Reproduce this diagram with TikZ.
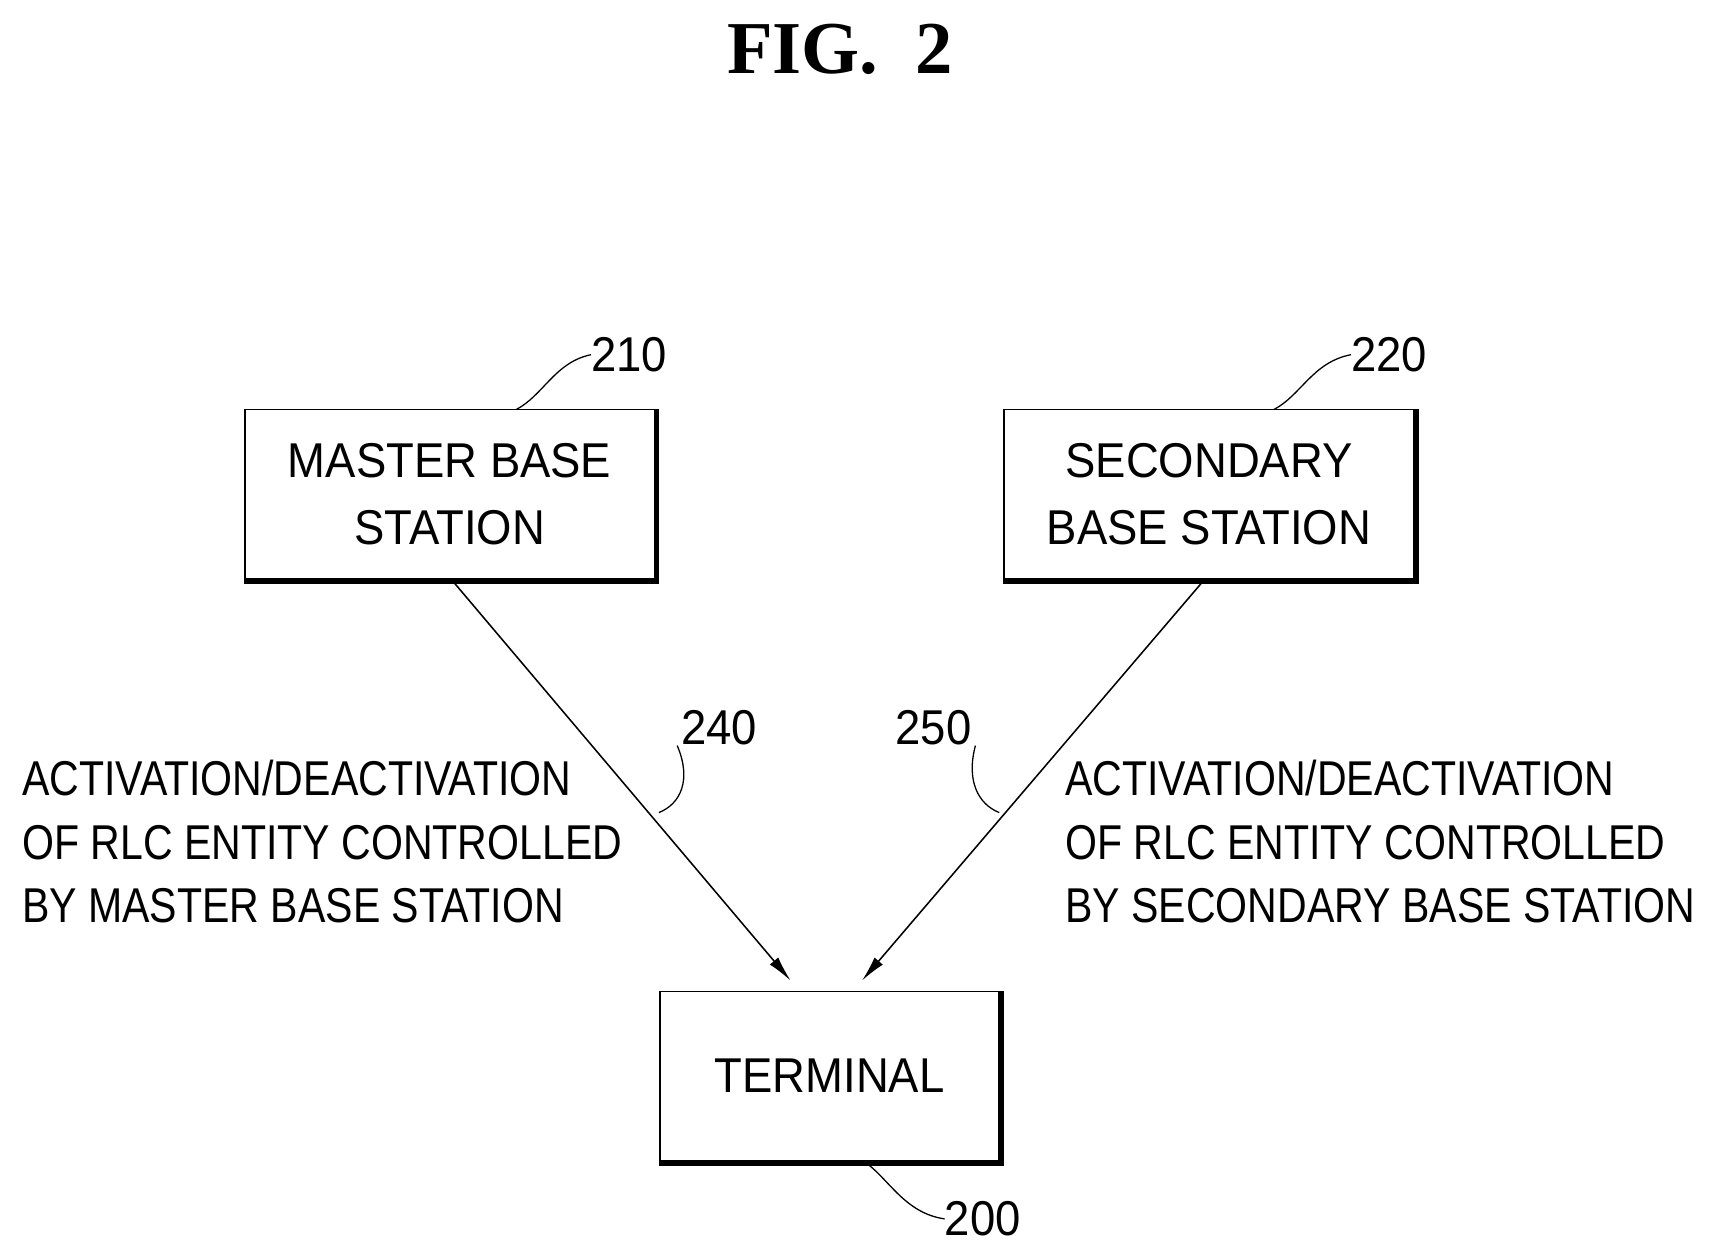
\documentclass[tikz,border=0pt]{standalone}
\usetikzlibrary{arrows.meta}
\usepackage{fontspec}
\setmainfont{Liberation Sans}
\newfontfamily\figfont{Liberation Serif}
\newfontfamily\condA[FakeStretch=0.84]{Liberation Sans}
\newfontfamily\condB[FakeStretch=0.93]{Liberation Sans}
\begin{document}
\begin{tikzpicture}[x=0.3mm,y=-0.3mm,
  box/.style={draw,line width=1.2pt,minimum width=111.9mm,minimum height=46.2mm,inner sep=0pt,align=center,font=\condB\fontsize{38}{52}\selectfont},
  lbl/.style={font=\condB\fontsize{38}{50}\selectfont,inner sep=0pt},
  txt/.style={font=\condA\fontsize{38}{49.5}\selectfont,align=left,inner sep=0pt,anchor=north west},
  lead/.style={line width=1pt},
  arr/.style={line width=1.2pt,-{Latex[length=7mm,width=3mm]}}]
\useasboundingbox (0,0) rectangle (1560,1141);
\node[font=\figfont\bfseries\fontsize{58}{60}\selectfont] (fig) at (765,45) {FIG.\ \ 2};
\node[box] (m) at (409.5,450) {MASTER BASE\\STATION};
\node[box] (s) at (1101,450) {SECONDARY\\BASE STATION};
\node[box,minimum width=92.7mm] (t) at (755.5,980) {TERMINAL};
\foreach \n in {m,s,t}{\draw[line width=3.5pt] ([xshift=1.5pt]\n.north east) -- ([xshift=1.5pt,yshift=-1.5pt]\n.south east) -- ([yshift=-1.5pt]\n.south west);}
\node[lbl] (l210) at (573,323) {210};
\node[lbl] (l220) at (1265,323) {220};
\node[lbl] (l200) at (895,1110) {200};
\node[lbl] (l240) at (655,663) {240};
\node[lbl] (l250) at (850,663) {250};
\coordinate (am) at (413,530); \coordinate (at) at (720,893);
\coordinate (as) at (1095,530); \coordinate (bt) at (785,893);
\draw[arr] (am) -- (at);
\draw[arr] (as) -- (bt);
\draw[lead] (470,373) .. controls (495,360) and (505,330) .. (l210.west);
\draw[lead] (1160,373) .. controls (1185,360) and (1195,330) .. (l220.west);
\draw[lead] (790,1060) .. controls (810,1075) and (825,1105) .. (l200.west);
\draw[lead] (600,740) .. controls (620,732) and (630,710) .. ([xshift=-3pt]l240.south west);
\draw[lead] (910,740) .. controls (890,732) and (880,710) .. ([xshift=3pt]l250.south east);
\node[txt] (tl) at (20,692) {ACTIVATION/DEACTIVATION\\OF RLC ENTITY CONTROLLED\\BY MASTER BASE STATION};
\node[txt] (tr) at (970,692) {ACTIVATION/DEACTIVATION\\OF RLC ENTITY CONTROLLED\\BY SECONDARY BASE STATION};
\end{tikzpicture}
\end{document}
